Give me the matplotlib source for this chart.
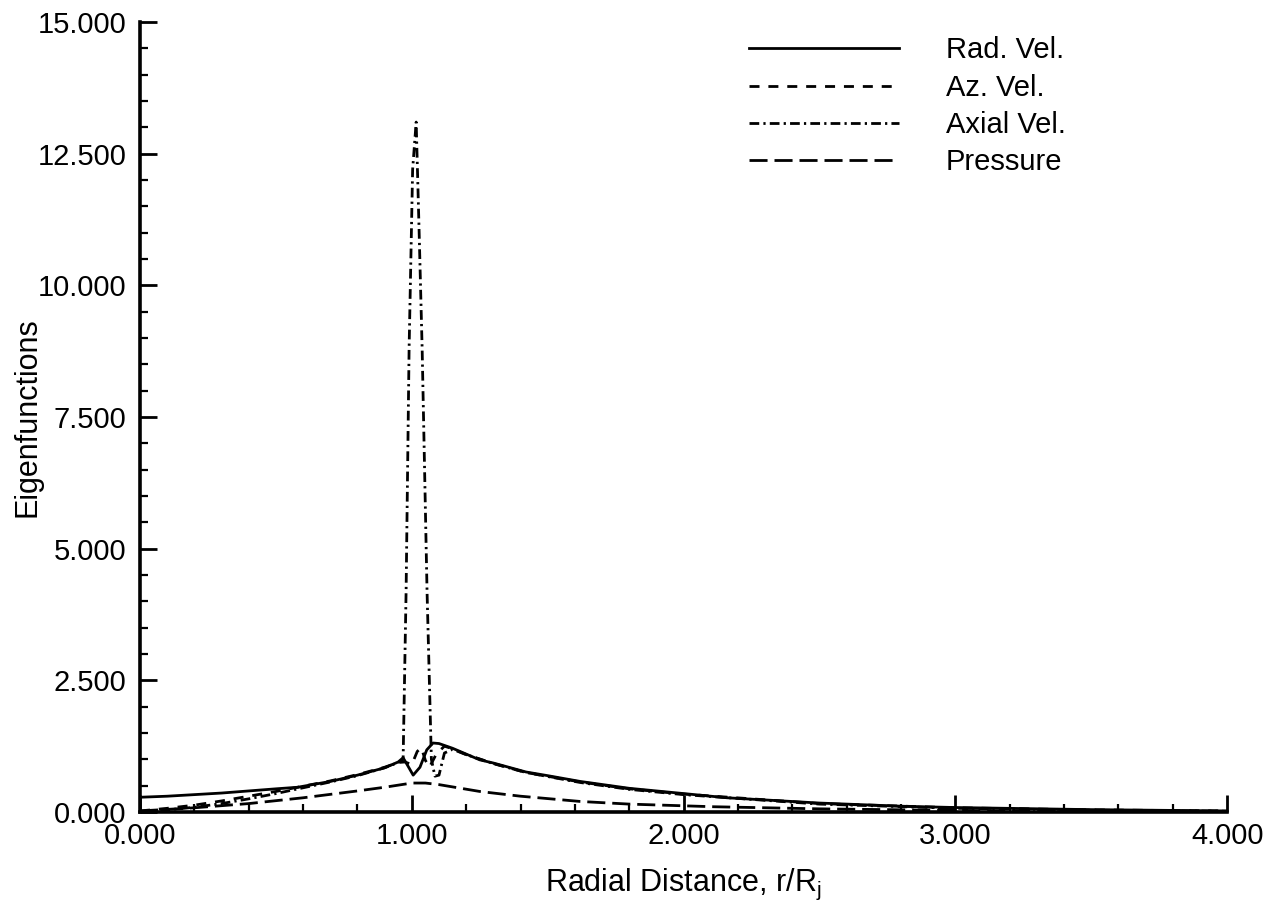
import matplotlib
matplotlib.use("Agg")
import matplotlib.pyplot as plt
from matplotlib.ticker import MultipleLocator, FormatStrFormatter

plt.rcParams['font.family'] = ['Liberation Sans', 'DejaVu Sans']
plt.rcParams['mathtext.fontset'] = 'custom'
plt.rcParams['mathtext.rm'] = 'Liberation Sans'
plt.rcParams['mathtext.it'] = 'Liberation Sans'

# ---- data ----
rad_x = [0.0, 0.1, 0.2, 0.3, 0.4, 0.5, 0.58, 0.7, 0.8, 0.9, 0.95, 0.968, 0.985, 1.005,
         1.03, 1.055, 1.078, 1.1, 1.15, 1.2, 1.25, 1.3, 1.42, 1.5, 1.62, 1.8, 2.0, 2.16,
         2.5, 2.8, 3.0, 3.5, 4.0]
rad_y = [0.28, 0.30, 0.33, 0.36, 0.40, 0.44, 0.47, 0.58, 0.70, 0.84, 0.95, 1.03, 0.88, 0.70,
         0.85, 1.18, 1.31, 1.30, 1.21, 1.10, 0.99, 0.93, 0.76, 0.69, 0.58, 0.45, 0.35, 0.27,
         0.17, 0.11, 0.085, 0.045, 0.02]

az_x = [0.0, 0.1, 0.2, 0.3, 0.4, 0.5, 0.6, 0.7, 0.8, 0.9, 0.95, 0.975, 1.0, 1.02, 1.035,
        1.05, 1.065, 1.09, 1.12, 1.15, 1.2, 1.3, 1.42, 1.62, 1.8, 2.0, 2.5, 3.0, 3.5, 4.0]
az_y = [0.02, 0.07, 0.13, 0.21, 0.30, 0.39, 0.49, 0.59, 0.71, 0.85, 0.94, 0.95, 0.90, 1.15,
        1.22, 0.98, 0.85, 1.10, 1.25, 1.20, 1.09, 0.92, 0.75, 0.57, 0.44, 0.34, 0.16, 0.08,
        0.04, 0.02]

axial_x = [0.0, 0.1, 0.2, 0.3, 0.4, 0.5, 0.6, 0.7, 0.8, 0.9, 0.95, 0.968, 0.979, 0.99,
           1.003, 1.016, 1.027, 1.038, 1.056, 1.072, 1.085, 1.1, 1.12, 1.15, 1.2, 1.3,
           1.42, 1.62, 1.8, 2.0, 2.5, 3.0, 3.5, 4.0]
axial_y = [0.0, 0.04, 0.09, 0.16, 0.25, 0.35, 0.46, 0.57, 0.69, 0.84, 0.94, 1.00, 4.2, 8.8,
           12.2, 13.1, 11.0, 8.8, 4.2, 1.0, 0.68, 0.70, 1.12, 1.19, 1.09, 0.92,
           0.75, 0.56, 0.43, 0.33, 0.15, 0.07, 0.035, 0.015]

pres_x = [0.0, 0.2, 0.4, 0.6, 0.8, 0.9, 1.0, 1.05, 1.1, 1.25, 1.4, 1.62, 1.8, 2.11, 2.5,
          3.0, 3.5, 4.0]
pres_y = [0.02, 0.08, 0.16, 0.27, 0.40, 0.47, 0.55, 0.55, 0.52, 0.39, 0.30, 0.20, 0.15,
          0.10, 0.06, 0.03, 0.015, 0.01]

labels = ["Rad. Vel.", "Az. Vel.", "Axial Vel.", "Pressure"]

x_major = [0.0, 1.0, 2.0, 3.0, 4.0]
y_major = [0.0, 2.5, 5.0, 7.5, 10.0, 12.5, 15.0]

# ---- figure ----
fig = plt.figure(figsize=(12.73, 9.17), dpi=100)
ax = fig.add_axes([0.110, 0.1145, 0.854, 0.8615])

lw = 2.0
ax.plot(rad_x, rad_y, color='black', lw=lw, linestyle='-', label=labels[0])
ax.plot(az_x, az_y, color='black', lw=lw, linestyle=(0, (3.6, 3.2)), label=labels[1])
ax.plot(axial_x, axial_y, color='black', lw=lw, linestyle=(0, (3.5, 1.5, 0.8, 1.5)), label=labels[2])
ax.plot(pres_x, pres_y, color='black', lw=lw, linestyle=(0, (6.5, 2.5)), label=labels[3])

ax.set_xlim(0, 4)
ax.set_ylim(0, 15)
ax.set_xticks(x_major)
ax.set_yticks(y_major)
ax.xaxis.set_minor_locator(MultipleLocator(0.2))
ax.yaxis.set_minor_locator(MultipleLocator(0.5))
ax.xaxis.set_major_formatter(FormatStrFormatter('%.3f'))
ax.yaxis.set_major_formatter(FormatStrFormatter('%.3f'))

for s in ['top', 'right']:
    ax.spines[s].set_visible(False)
for s in ['left', 'bottom']:
    ax.spines[s].set_linewidth(2.6)

ax.tick_params(which='major', direction='in', length=12, width=2.0, labelsize=21, pad=7)
ax.tick_params(which='minor', direction='in', length=6, width=1.6)
ax.tick_params(axis='y', which='major', pad=10)

ax.set_xlabel(r"Radial Distance, r/R$_\mathrm{j}$", fontsize=22, labelpad=12)
ax.set_ylabel("Eigenfunctions", fontsize=22)
ax.yaxis.set_label_coords(-0.09, 0.5)

leg = ax.legend(loc='upper left', bbox_to_anchor=(0.536, 1.015), frameon=False,
                fontsize=21, handlelength=5.15, handletextpad=1.6, labelspacing=0.32)

fig.savefig("out.png", dpi=100, facecolor='white')
